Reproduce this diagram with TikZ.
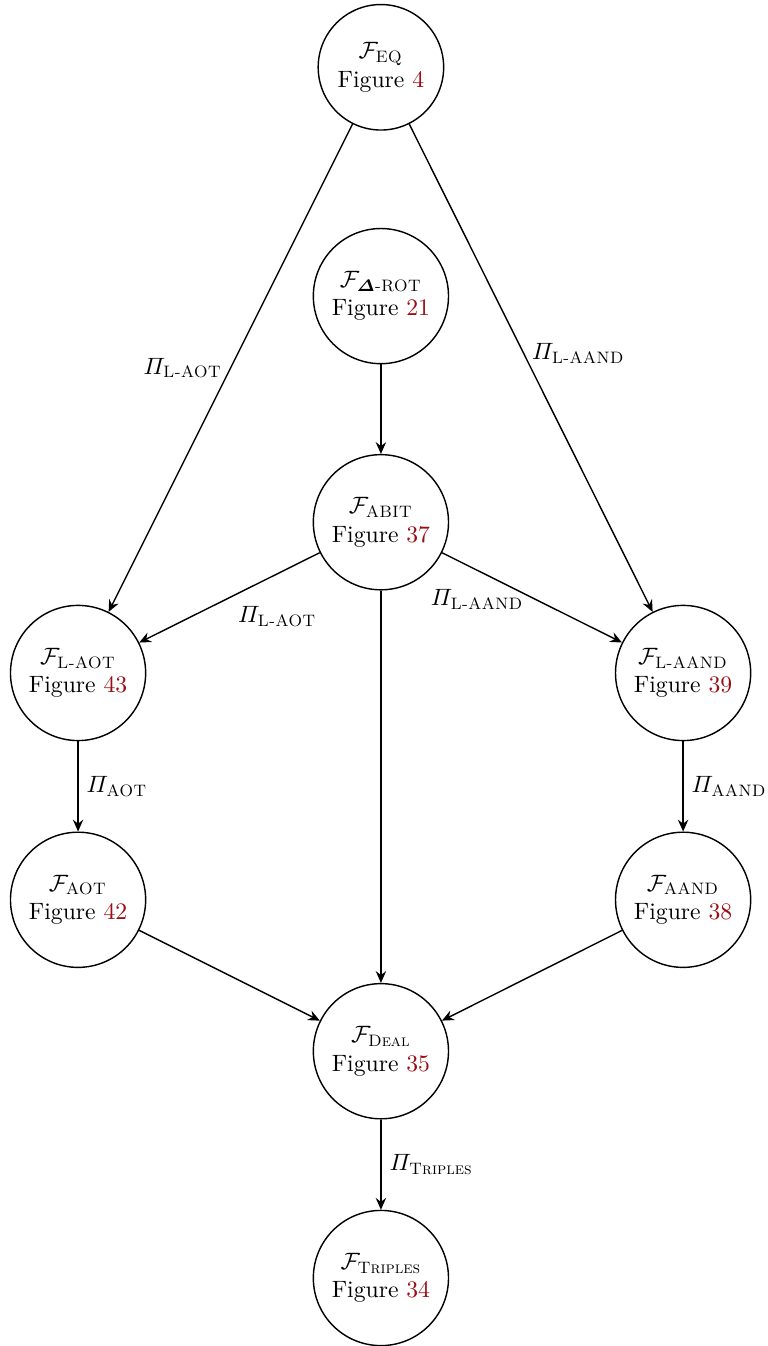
\documentclass[tikz,border=0pt]{standalone}
\usepackage{amsmath,amssymb,bm}
\usetikzlibrary{arrows.meta}
\definecolor{figred}{rgb}{0.6,0.05,0.08}
\newcommand{\Func}[1]{$\mathcal{F}_{\text{\textsc{#1}}}$}
\newcommand{\Prot}[1]{$\varPi_{\text{\textsc{#1}}}$}
\newcommand{\Fig}[1]{Figure~\textcolor{figred}{#1}}

\begin{document}
\begin{tikzpicture}[
    func/.style={draw, circle, semithick, align=center, inner sep=4pt},
    link/.style={-{Stealth[length=5pt,width=4.4pt,inset=1.7pt]}, semithick}]
    \useasboundingbox (0,0) rectangle (11.4,20);
    % functionalities
    \node[func] (eq)     at (5.66,19.0)  {\Func{EQ}\\ \Fig{4}};
    \node[func] (drot)   at (5.66,15.6)  {\Func{$\boldsymbol{\varDelta}$-ROT}\\ \Fig{21}};
    \node[func] (abit)   at (5.66,12.24) {\Func{ABIT}\\ \Fig{37}};
    \node[func] (laot)   at (1.16,10.0)  {\Func{L-AOT}\\ \Fig{43}};
    \node[func] (laand)  at (10.15,10.0) {\Func{L-AAND}\\ \Fig{39}};
    \node[func] (aot)    at (1.16,6.63)  {\Func{AOT}\\ \Fig{42}};
    \node[func] (aand)   at (10.15,6.63) {\Func{AAND}\\ \Fig{38}};
    \node[func] (deal)   at (5.66,4.38)  {\Func{Deal}\\ \Fig{35}};
    \node[func] (trip)   at (5.66,1.01)  {\Func{Triples}\\ \Fig{34}};
    % protocols
    \draw[link] (eq) -- (laot) node[midway,left] {\Prot{L-AOT}};
    \draw[link] (eq) -- (laand) node[pos=0.47,right] {\Prot{L-AAND}};
    \draw[link] (drot) -- (abit);
    \draw[link] (abit) -- (laot) node[midway,below right] {\Prot{L-AOT}};
    \draw[link] (abit) -- (laand) node[pos=0.5,below left,yshift=7pt] {\Prot{L-AAND}};
    \draw[link] (abit) -- (deal);
    \draw[link] (laot) -- (aot) node[midway,right] {\Prot{AOT}};
    \draw[link] (laand) -- (aand) node[midway,right] {\Prot{AAND}};
    \draw[link] (aot) -- (deal);
    \draw[link] (aand) -- (deal);
    \draw[link] (deal) -- (trip) node[midway,right] {\Prot{Triples}};
\end{tikzpicture}
\end{document}
